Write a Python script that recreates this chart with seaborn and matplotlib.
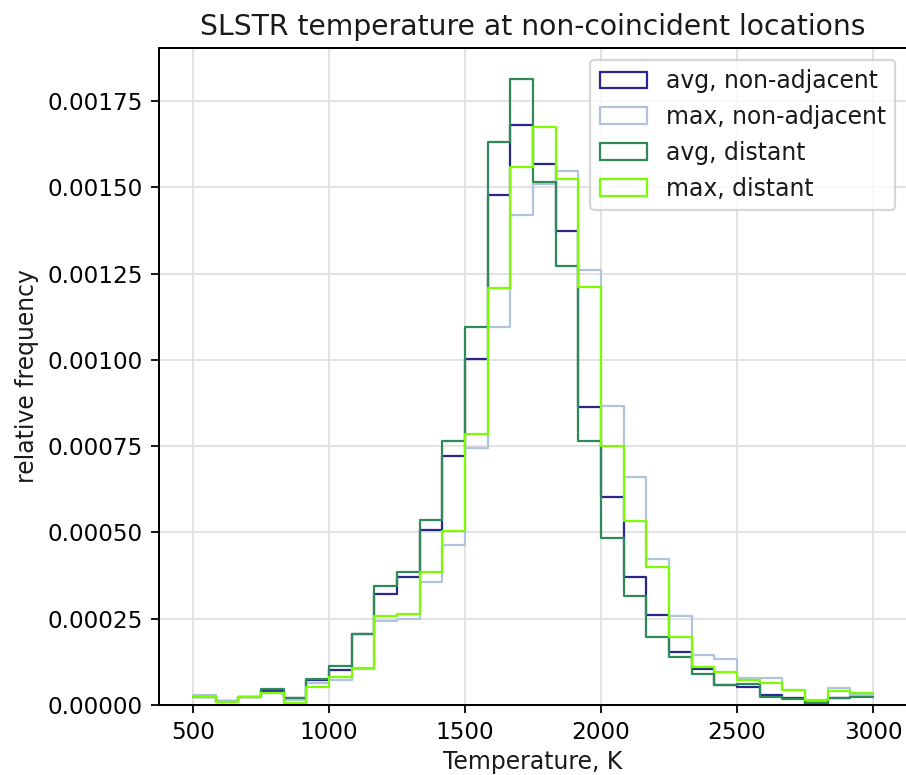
import numpy as np
import pandas as pd
import matplotlib.pyplot as plt
from matplotlib.patches import Patch
import seaborn as sns

# 30 equal bins between 500 K and 3000 K
n_bins = 30
t_min, t_max = 500, 3000
bin_edges = np.linspace(t_min, t_max, n_bins + 1)

# relative frequency per bin
avg_nonadj = [0.000024, 0.000012, 0.000024, 0.000040, 0.000020, 0.000073,
              0.000100, 0.000206, 0.000322, 0.000371, 0.000508, 0.000721,
              0.001002, 0.001479, 0.001681, 0.001568, 0.001374, 0.000863,
              0.000602, 0.000371, 0.000261, 0.000153, 0.000104, 0.000058,
              0.000053, 0.000029, 0.000020, 0.000003, 0.000020, 0.000026]
max_nonadj = [0.000029, 0.000012, 0.000024, 0.000035, 0.000015, 0.000065,
              0.000071, 0.000105, 0.000242, 0.000250, 0.000355, 0.000464,
              0.000745, 0.001096, 0.001421, 0.001510, 0.001548, 0.001261,
              0.000866, 0.000661, 0.000424, 0.000258, 0.000145, 0.000133,
              0.000077, 0.000077, 0.000044, 0.000010, 0.000048, 0.000030]
avg_distant = [0.000024, 0.000008, 0.000024, 0.000045, 0.000019, 0.000075,
               0.000114, 0.000207, 0.000346, 0.000386, 0.000537, 0.000766,
               0.001096, 0.001631, 0.001813, 0.001515, 0.001271, 0.000766,
               0.000484, 0.000316, 0.000197, 0.000138, 0.000089, 0.000058,
               0.000060, 0.000024, 0.000017, 0.000007, 0.000020, 0.000024]
max_distant = [0.000022, 0.000010, 0.000024, 0.000034, 0.000007, 0.000051,
               0.000082, 0.000107, 0.000258, 0.000264, 0.000384, 0.000503,
               0.000784, 0.001207, 0.001558, 0.001676, 0.001524, 0.001212,
               0.000750, 0.000532, 0.000400, 0.000197, 0.000109, 0.000095,
               0.000073, 0.000065, 0.000044, 0.000015, 0.000041, 0.000036]

labels = ["avg, non-adjacent", "max, non-adjacent", "avg, distant", "max, distant"]
colors = ["#28288c", "lightsteelblue", "seagreen", "lawngreen"]
series = [avg_nonadj, max_nonadj, avg_distant, max_distant]

sns.set_style("ticks", {"axes.grid": True, "grid.color": "#e0e0e0",
                        "axes.edgecolor": "black", "text.color": "#1a1a1a",
                        "axes.labelcolor": "#1a1a1a", "xtick.color": "black",
                        "ytick.color": "black",
                        "axes.spines.top": True, "axes.spines.right": True})
plt.rcParams["font.family"] = ["DejaVu Sans"]
plt.rcParams["font.size"] = 10.6
plt.rcParams["xtick.labelsize"] = 10.4
plt.rcParams["ytick.labelsize"] = 10.4
plt.rcParams["xtick.major.size"] = 3.7
plt.rcParams["ytick.major.size"] = 3.7
plt.rcParams["axes.linewidth"] = 0.9

fig = plt.figure(figsize=(906 / 160, 775 / 160), dpi=160)
ax = fig.add_axes([159 / 906, 1 - 705 / 775, 748 / 906, 657 / 775])

centers = (bin_edges[:-1] + bin_edges[1:]) / 2
for lab, vals, col in zip(labels, series, colors):
    df = pd.DataFrame({"temp": centers, "freq": vals})
    sns.histplot(data=df, x="temp", weights="freq", bins=n_bins,
                 binrange=(t_min, t_max), element="step", fill=False,
                 stat="count", color=col, linewidth=1.0, ax=ax)

ax.set_xlim(375, 3125)
ax.set_ylim(bottom=0)
for side in ["top", "left", "bottom"]:
    ax.spines[side].set_visible(True)
    ax.spines[side].set_color("black")
    ax.spines[side].set_zorder(5)
# the right frame edge falls just outside the saved picture
ax.spines["right"].set_visible(False)
ax.set_xlabel("Temperature, K", labelpad=2.5)
ax.set_ylabel("relative frequency")
ax.set_title("SLSTR temperature at non-coincident locations", fontsize=12.7)

handles = [Patch(facecolor="none", edgecolor=c, label=l) for l, c in zip(labels, colors)]
ax.legend(handles=handles, loc="upper right", frameon=True, fontsize=10.6)

fig.savefig("out.png", dpi=160)
